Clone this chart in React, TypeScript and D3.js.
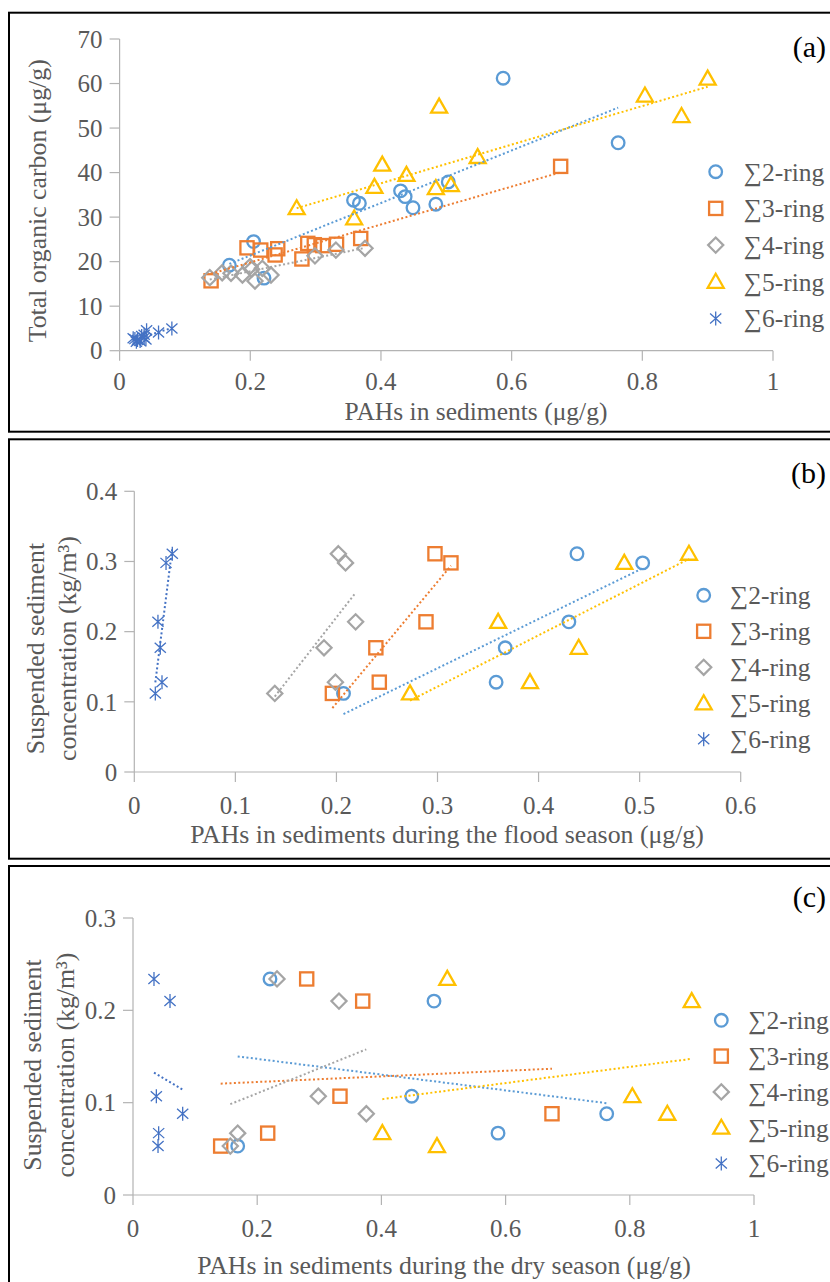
import * as d3 from "d3";

// series meta
const seriesNames = ["∑2-ring", "∑3-ring", "∑4-ring", "∑5-ring", "∑6-ring"];
const seriesColors = ["#5B9BD5", "#ED7D31", "#A5A5A5", "#FFC000", "#4472C4"];
const seriesShapes = ["circle", "square", "diamond", "triangle", "star"];

// (a) PAHs in sediments vs total organic carbon
const ring2A = [0.168, 0.205, 0.221, 0.358, 0.367, 0.43, 0.437, 0.449, 0.484, 0.503, 0.587, 0.763];
const toc2A = [19.2, 24.5, 16.3, 33.8, 33.1, 35.9, 34.6, 32.1, 32.9, 37.9, 61.2, 46.7];
const ring3A = [0.14, 0.195, 0.216, 0.238, 0.242, 0.279, 0.288, 0.298, 0.311, 0.332, 0.369, 0.675];
const toc3A = [15.7, 23.1, 22.6, 21.5, 22.9, 20.6, 24.1, 23.8, 23.6, 23.9, 25.2, 41.4];
const ring4A = [0.138, 0.157, 0.1705, 0.188, 0.1996, 0.202, 0.2072, 0.2184, 0.2317, 0.299, 0.331, 0.3756];
const toc4A = [16.4, 17.5, 17.4, 17.0, 18.9, 18.3, 15.65, 18.5, 17.0, 21.3, 22.6, 23.0];
const ring5A = [0.271, 0.359, 0.39, 0.402, 0.439, 0.484, 0.489, 0.507, 0.548, 0.804, 0.86, 0.9];
const toc5A = [32.0, 29.7, 36.8, 41.8, 39.5, 36.5, 54.8, 37.2, 43.5, 57.3, 52.7, 61.1];
const ring6A = [0.0208, 0.0234, 0.0257, 0.0274, 0.0314, 0.0338, 0.0376, 0.0376, 0.0403, 0.0413, 0.0596, 0.08];
const toc6A = [2.8, 2.6, 2.0, 2.4, 2.2, 3.3, 2.9, 3.6, 2.5, 4.6, 4.1, 5.0];

// (b) flood season
const floodSSC = [0.311, 0.298, 0.214, 0.177, 0.128, 0.112];
const ring2B = [0.438, 0.503, 0.43, 0.367, 0.358, 0.207];
const ring3B = [0.2975, 0.3133, 0.2886, 0.239, 0.2424, 0.196];
const ring4B = [0.2019, 0.209, 0.219, 0.1877, 0.199, 0.139];
const ring5B = [0.5488, 0.4848, 0.36, 0.4397, 0.3915, 0.2728];
const ring6B = [0.0376, 0.0314, 0.0234, 0.0257, 0.0274, 0.0208];

// (c) dry season
const drySSC = [0.234, 0.21, 0.107, 0.088, 0.067, 0.053];
const ring2C = [0.2206, 0.4847, 0.4488, 0.7628, 0.5878, 0.1686];
const ring3C = [0.2797, 0.3699, 0.3333, 0.6747, 0.2169, 0.1412];
const ring4C = [0.2319, 0.3317, 0.2984, 0.3757, 0.1686, 0.1567];
const ring5C = [0.5061, 0.8997, 0.8041, 0.8604, 0.4015, 0.4895];
const ring6C = [0.0338, 0.0596, 0.0376, 0.08, 0.0413, 0.0403];

// tick labels
const ticksXA = [0, 0.2, 0.4, 0.6, 0.8, 1];
const ticksYA = [0, 10, 20, 30, 40, 50, 60, 70];
const ticksXB = [0, 0.1, 0.2, 0.3, 0.4, 0.5, 0.6];
const ticksYB = [0, 0.1, 0.2, 0.3, 0.4];
const ticksXC = [0, 0.2, 0.4, 0.6, 0.8, 1];
const ticksYC = [0, 0.1, 0.2, 0.3];

const FONT = '"Liberation Serif", "DejaVu Serif", "Times New Roman", Times, serif';
const TXT = "#595959";
const AXIS = "#b3b3b3";

function fit(xs, ys) {
  const mx = d3.mean(xs), my = d3.mean(ys);
  let sxy = 0, sxx = 0;
  xs.forEach((x, i) => { sxy += (x - mx) * (ys[i] - my); sxx += (x - mx) ** 2; });
  const b = sxy / sxx;
  const [x0, x1] = d3.extent(xs);
  return [x0, my + b * (x0 - mx), x1, my + b * (x1 - mx)];
}

function Marker({ shape, x, y, color }) {
  if (shape === "circle")
    return <circle cx={x} cy={y} r={6.3} fill="none" stroke={color} strokeWidth={2.3} />;
  if (shape === "square")
    return <rect x={x - 6.6} y={y - 6.6} width={13.2} height={13.2} fill="none" stroke={color} strokeWidth={2.3} />;
  if (shape === "diamond")
    return <path d={`M${x},${y - 7.6}L${x + 7.6},${y}L${x},${y + 7.6}L${x - 7.6},${y}Z`} fill="none" stroke={color} strokeWidth={2.2} />;
  if (shape === "triangle")
    return <path d={`M${x},${y - 8}L${x + 8},${y + 6}L${x - 8},${y + 6}Z`} fill="none" stroke={color} strokeWidth={2.3} />;
  return (
    <path
      d={`M${x},${y - 7}V${y + 7}M${x - 5.6},${y - 5}L${x + 5.6},${y + 5}M${x - 5.6},${y + 5}L${x + 5.6},${y - 5}`}
      stroke={color}
      strokeWidth={1.3}
      fill="none"
    />
  );
}

const tStyle = { fontFamily: FONT };

function Panel({ p }) {
  const x = d3.scaleLinear().domain(p.xDomain).range(p.xRange);
  const y = d3.scaleLinear().domain(p.yDomain).range(p.yRange);
  const [xl, xr] = p.xRange;
  const [yb, yt] = p.yRange;
  return (
    <g>
      <rect x={9} y={p.frame[0]} width={830} height={p.frame[1] - p.frame[0]} fill="none" stroke="#000" strokeWidth={2} />
      {/* axes */}
      <line x1={xl} x2={xl} y1={yb} y2={yt} stroke={AXIS} strokeWidth={1.2} />
      <line x1={xl} x2={xr} y1={yb} y2={yb} stroke={AXIS} strokeWidth={1.2} />
      {p.yTicks.map((t) => (
        <g key={"y" + t}>
          <line x1={xl - 10} x2={xl} y1={y(t)} y2={y(t)} stroke={AXIS} strokeWidth={1.2} />
          <text style={tStyle} x={xl - 17} y={y(t)} dy="0.35em" textAnchor="end" fontSize={25} fill={TXT}>{String(t)}</text>
        </g>
      ))}
      {p.xTicks.map((t) => (
        <g key={"x" + t}>
          <line x1={x(t)} x2={x(t)} y1={yb} y2={yb + 10} stroke={AXIS} strokeWidth={1.2} />
          <text style={tStyle} x={x(t)} y={yb + p.xTickGap} dy="0.35em" textAnchor="middle" fontSize={25} fill={TXT}>{String(t)}</text>
        </g>
      ))}
      {/* points */}
      {p.xs.map((xs, s) =>
        xs.map((v, i) => (
          <Marker key={s + "-" + i} shape={seriesShapes[s]} x={x(v)} y={y(p.ys[s][i])} color={seriesColors[s]} />
        ))
      )}
      {/* trendlines */}
      {p.xs.map((xs, s) => {
        const [x0, y0, x1, y1] = fit(xs, p.ys[s]);
        return (
          <line key={"t" + s} x1={x(x0)} y1={y(y0)} x2={x(x1)} y2={y(y1)} stroke={seriesColors[s]} strokeWidth={2} strokeDasharray="2 2.4" />
        );
      })}
      {/* titles */}
      <text style={tStyle} x={p.xTitle[0]} y={p.xTitle[1]} dy="0.35em" textAnchor="middle" fontSize={p.xTitle[2]} fill={TXT}>{p.xLabel}</text>
      {p.yLabel.map((l, i) => (
        <text
          key={l}
          style={tStyle}
          transform={`translate(${p.yTitle[i]},${p.yTitle[2]}) rotate(-90)`}
          dy="0.35em"
          textAnchor="middle"
          fontSize={25.8}
          fill={TXT}
        >
          {l}
        </text>
      ))}
      <text style={tStyle} x={826} y={p.tagY} dy="0.35em" textAnchor="end" fontSize={30} fill="#000">{p.tag}</text>
      {/* legend */}
      {seriesNames.map((n, s) => {
        const ly = p.legend[2] + s * p.legend[3];
        return (
          <g key={n}>
            <Marker shape={seriesShapes[s]} x={p.legend[0]} y={ly} color={seriesColors[s]} />
            <text style={tStyle} x={p.legend[1]} y={ly} dy="0.35em" fontSize={25.5} fill={TXT}>{n}</text>
          </g>
        );
      })}
    </g>
  );
}

const panelA = {
  frame: [12.7, 431.7],
  xDomain: [0, 1], xRange: [119.6, 773],
  yDomain: [0, 70], yRange: [350.7, 39],
  xTicks: ticksXA, yTicks: ticksYA, xTickGap: 30.5,
  xs: [ring2A, ring3A, ring4A, ring5A, ring6A],
  ys: [toc2A, toc3A, toc4A, toc5A, toc6A],
  xLabel: "PAHs in sediments (μg/g)", xTitle: [476, 411.5, 25.5],
  yLabel: ["Total organic carbon (μg/g)"], yTitle: [37, 0, 200.8],
  tag: "(a)", tagY: 46.7,
  legend: [715.7, 743.8, 171.7, 36.7],
};

const panelB = {
  frame: [439.3, 858.7],
  xDomain: [0, 0.6], xRange: [134.3, 740.7],
  yDomain: [0, 0.4], yRange: [772, 491.3],
  xTicks: ticksXB, yTicks: ticksYB, xTickGap: 33,
  xs: [ring2B, ring3B, ring4B, ring5B, ring6B],
  ys: [floodSSC, floodSSC, floodSSC, floodSSC, floodSSC],
  xLabel: "PAHs in sediments during the flood season (μg/g)", xTitle: [447, 834, 25.8],
  yLabel: ["Suspended sediment", "concentration (kg/m³)"], yTitle: [35, 66.7, 648.5],
  tag: "(b)", tagY: 472.7,
  legend: [703.7, 730, 595.3, 36],
};

const panelC = {
  frame: [866, 1290],
  xDomain: [0, 1], xRange: [133, 754],
  yDomain: [0, 0.3], yRange: [1195, 918],
  xTicks: ticksXC, yTicks: ticksYC, xTickGap: 33,
  xs: [ring2C, ring3C, ring4C, ring5C, ring6C],
  ys: [drySSC, drySSC, drySSC, drySSC, drySSC],
  xLabel: "PAHs in sediments during the dry season (μg/g)", xTitle: [444, 1265, 25.8],
  yLabel: ["Suspended sediment", "concentration (kg/m³)"], yTitle: [31.7, 65, 1065],
  tag: "(c)", tagY: 896.7,
  legend: [721.3, 748.3, 1020.3, 35.8],
};

export default function App() {
  return (
    <svg
      width={830}
      height={1282}
      style={{ position: "absolute", left: 0, top: 0, background: "#fff", fontFamily: FONT }}
    >
      <rect width={830} height={1282} fill="#fff" />
      <Panel p={panelA} />
      <Panel p={panelB} />
      <Panel p={panelC} />
    </svg>
  );
}
